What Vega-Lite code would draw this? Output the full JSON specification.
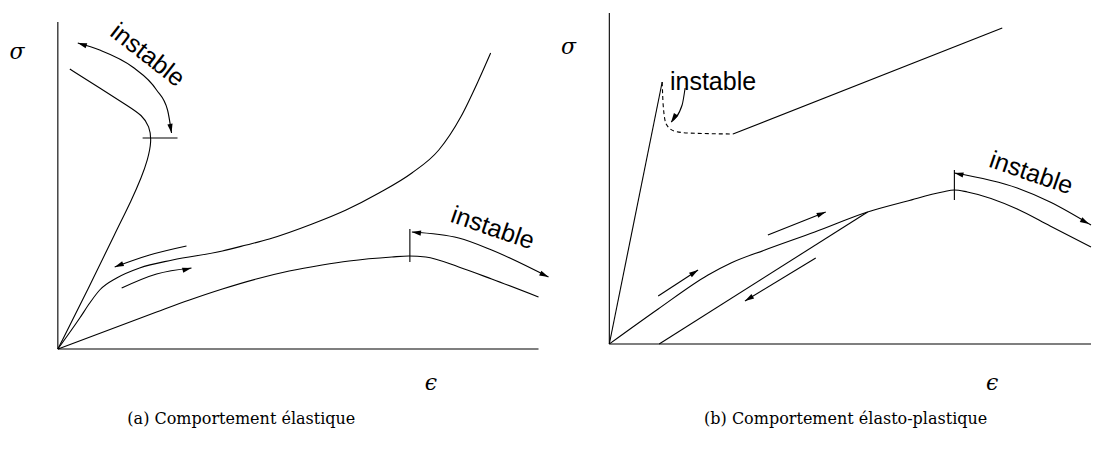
{
  "$schema": "https://vega.github.io/schema/vega-lite/v6.json",
  "width": 1094,
  "height": 456,
  "autosize": {"type": "fit", "contains": "padding"},
  "padding": 0,
  "background": "white",
  "config": {"view": {"stroke": null}},
  "datasets": {
    "lines": [
      {"id": "a_yax", "i": 0, "x": 58, "y": 22}, {"id": "a_yax", "i": 1, "x": 58, "y": 349},
      {"id": "a_xax", "i": 0, "x": 58, "y": 349}, {"id": "a_xax", "i": 1, "x": 540, "y": 349},
      {"id": "b_yax", "i": 0, "x": 611, "y": 13}, {"id": "b_yax", "i": 1, "x": 611, "y": 344},
      {"id": "b_xax", "i": 0, "x": 611, "y": 344}, {"id": "b_xax", "i": 1, "x": 1094, "y": 344},
      {"id": "t1", "i": 0, "x": 143, "y": 138}, {"id": "t1", "i": 1, "x": 178, "y": 138},
      {"id": "t2", "i": 0, "x": 411, "y": 229}, {"id": "t2", "i": 1, "x": 411, "y": 262},
      {"id": "t3", "i": 0, "x": 957, "y": 170}, {"id": "t3", "i": 1, "x": 957, "y": 200},
      {"id": "b_l1", "i": 0, "x": 611, "y": 344}, {"id": "b_l1", "i": 1, "x": 664, "y": 82},
      {"id": "b_l3", "i": 0, "x": 735, "y": 134}, {"id": "b_l3", "i": 1, "x": 1005, "y": 28},
      {"id": "b_l6", "i": 0, "x": 661, "y": 344}, {"id": "b_l6", "i": 1, "x": 870, "y": 212},
      {"id": "b_arr1", "i": 0, "x": 660, "y": 296}, {"id": "b_arr1", "i": 1, "x": 700, "y": 270},
      {"id": "b_arr2", "i": 0, "x": 770, "y": 235}, {"id": "b_arr2", "i": 1, "x": 828, "y": 212},
      {"id": "b_arr3", "i": 0, "x": 818, "y": 258}, {"id": "b_arr3", "i": 1, "x": 747, "y": 301}
    ],
    "scurve": [
      {"id": "a_s", "i": 0, "x": 58, "y": 349}, {"id": "a_s", "i": 1, "x": 88, "y": 290},
      {"id": "a_s", "i": 2, "x": 117, "y": 230}, {"id": "a_s", "i": 3, "x": 132, "y": 200},
      {"id": "a_s", "i": 4, "x": 142, "y": 177}, {"id": "a_s", "i": 5, "x": 148, "y": 160},
      {"id": "a_s", "i": 6, "x": 152, "y": 142}, {"id": "a_s", "i": 7, "x": 150, "y": 126},
      {"id": "a_s", "i": 8, "x": 142, "y": 115}, {"id": "a_s", "i": 9, "x": 130, "y": 107},
      {"id": "a_s", "i": 10, "x": 100, "y": 88}, {"id": "a_s", "i": 11, "x": 70, "y": 69}
    ],
    "curves": [
      {"id": "a_up", "i": 0, "x": 58, "y": 349}, {"id": "a_up", "i": 1, "x": 80, "y": 318},
      {"id": "a_up", "i": 2, "x": 90, "y": 303}, {"id": "a_up", "i": 3, "x": 100, "y": 290},
      {"id": "a_up", "i": 4, "x": 117, "y": 278}, {"id": "a_up", "i": 5, "x": 140, "y": 268},
      {"id": "a_up", "i": 6, "x": 173, "y": 260}, {"id": "a_up", "i": 7, "x": 223, "y": 251},
      {"id": "a_up", "i": 8, "x": 247, "y": 245}, {"id": "a_up", "i": 9, "x": 270, "y": 239},
      {"id": "a_up", "i": 10, "x": 313, "y": 224}, {"id": "a_up", "i": 11, "x": 347, "y": 210},
      {"id": "a_up", "i": 12, "x": 380, "y": 193}, {"id": "a_up", "i": 13, "x": 413, "y": 173},
      {"id": "a_up", "i": 14, "x": 440, "y": 150}, {"id": "a_up", "i": 15, "x": 462, "y": 117},
      {"id": "a_up", "i": 16, "x": 480, "y": 80}, {"id": "a_up", "i": 17, "x": 492, "y": 53},
      {"id": "a_low", "i": 0, "x": 58, "y": 349}, {"id": "a_low", "i": 1, "x": 157, "y": 312},
      {"id": "a_low", "i": 2, "x": 190, "y": 300}, {"id": "a_low", "i": 3, "x": 223, "y": 289},
      {"id": "a_low", "i": 4, "x": 257, "y": 279}, {"id": "a_low", "i": 5, "x": 290, "y": 271},
      {"id": "a_low", "i": 6, "x": 323, "y": 265}, {"id": "a_low", "i": 7, "x": 350, "y": 261},
      {"id": "a_low", "i": 8, "x": 393, "y": 257}, {"id": "a_low", "i": 9, "x": 410, "y": 256},
      {"id": "a_low", "i": 10, "x": 427, "y": 257}, {"id": "a_low", "i": 11, "x": 460, "y": 267},
      {"id": "a_low", "i": 12, "x": 493, "y": 279}, {"id": "a_low", "i": 13, "x": 540, "y": 297},
      {"id": "a_arr1", "i": 0, "x": 78, "y": 43}, {"id": "a_arr1", "i": 1, "x": 100, "y": 50},
      {"id": "a_arr1", "i": 2, "x": 133, "y": 67}, {"id": "a_arr1", "i": 3, "x": 157, "y": 90},
      {"id": "a_arr1", "i": 4, "x": 168, "y": 110}, {"id": "a_arr1", "i": 5, "x": 172, "y": 133},
      {"id": "a_arr2", "i": 0, "x": 115, "y": 267}, {"id": "a_arr2", "i": 1, "x": 150, "y": 255},
      {"id": "a_arr2", "i": 2, "x": 187, "y": 246},
      {"id": "a_arr3", "i": 0, "x": 122, "y": 288}, {"id": "a_arr3", "i": 1, "x": 157, "y": 274},
      {"id": "a_arr3", "i": 2, "x": 192, "y": 268},
      {"id": "a_arr4", "i": 0, "x": 413, "y": 232}, {"id": "a_arr4", "i": 1, "x": 460, "y": 238},
      {"id": "a_arr4", "i": 2, "x": 493, "y": 250}, {"id": "a_arr4", "i": 3, "x": 550, "y": 277},
      {"id": "b_curve", "i": 0, "x": 611, "y": 344}, {"id": "b_curve", "i": 1, "x": 660, "y": 309},
      {"id": "b_curve", "i": 2, "x": 710, "y": 275}, {"id": "b_curve", "i": 3, "x": 733, "y": 263},
      {"id": "b_curve", "i": 4, "x": 767, "y": 250}, {"id": "b_curve", "i": 5, "x": 817, "y": 232},
      {"id": "b_curve", "i": 6, "x": 870, "y": 212}, {"id": "b_curve", "i": 7, "x": 910, "y": 201},
      {"id": "b_curve", "i": 8, "x": 945, "y": 192}, {"id": "b_curve", "i": 9, "x": 957, "y": 190},
      {"id": "b_curve", "i": 10, "x": 970, "y": 192}, {"id": "b_curve", "i": 11, "x": 1020, "y": 209},
      {"id": "b_curve", "i": 12, "x": 1053, "y": 226}, {"id": "b_curve", "i": 13, "x": 1094, "y": 247},
      {"id": "b_arr0", "i": 0, "x": 673, "y": 122}, {"id": "b_arr0", "i": 1, "x": 684, "y": 105},
      {"id": "b_arr0", "i": 2, "x": 687, "y": 88},
      {"id": "b_arr4", "i": 0, "x": 957, "y": 173}, {"id": "b_arr4", "i": 1, "x": 1020, "y": 188},
      {"id": "b_arr4", "i": 2, "x": 1053, "y": 202}, {"id": "b_arr4", "i": 3, "x": 1094, "y": 225}
    ],
    "dashed": [
      {"id": "b_dash", "i": 0, "x": 664, "y": 82}, {"id": "b_dash", "i": 1, "x": 665, "y": 105},
      {"id": "b_dash", "i": 2, "x": 668, "y": 124}, {"id": "b_dash", "i": 3, "x": 676, "y": 131},
      {"id": "b_dash", "i": 4, "x": 690, "y": 133}, {"id": "b_dash", "i": 5, "x": 735, "y": 134}
    ],
    "heads": [
      {"x": 78, "y": 43, "dir": 198}, {"x": 172, "y": 133, "dir": 80},
      {"x": 115, "y": 267, "dir": 158}, {"x": 192, "y": 268, "dir": 346},
      {"x": 413, "y": 232, "dir": 187}, {"x": 550, "y": 277, "dir": 25},
      {"x": 673, "y": 122, "dir": 123}, {"x": 700, "y": 270, "dir": 327},
      {"x": 828, "y": 212, "dir": 338}, {"x": 747, "y": 301, "dir": 149},
      {"x": 957, "y": 173, "dir": 193}, {"x": 1092, "y": 224, "dir": 29}
    ],
    "labels": [
      {"x": 148, "y": 55, "rot": 38, "t": "instable"},
      {"x": 494, "y": 228, "rot": 19, "t": "instable"},
      {"x": 1034, "y": 173, "rot": 19, "t": "instable"},
      {"x": 715, "y": 82, "rot": 0, "t": "instable"}
    ],
    "symbols": [
      {"x": 17, "y": 52, "t": "σ"}, {"x": 570, "y": 47, "t": "σ"},
      {"x": 432, "y": 383, "t": "ϵ"}, {"x": 995, "y": 383, "t": "ϵ"}
    ],
    "captions": [
      {"x": 242, "y": 419, "t": "(a) Comportement élastique"},
      {"x": 848, "y": 419, "t": "(b) Comportement élasto-plastique"}
    ]
  },
  "encoding": {
    "x": {"field": "x", "type": "quantitative", "scale": {"domain": [0, 1094], "nice": false, "zero": false}, "axis": null},
    "y": {"field": "y", "type": "quantitative", "scale": {"domain": [0, 456], "reverse": true, "nice": false, "zero": false}, "axis": null}
  },
  "layer": [
    {
      "data": {"name": "lines"},
      "mark": {"type": "line", "interpolate": "linear", "color": "black", "strokeWidth": 1.1},
      "encoding": {"detail": {"field": "id"}, "order": {"field": "i", "type": "quantitative"}}
    },
    {
      "data": {"name": "curves"},
      "mark": {"type": "line", "interpolate": "monotone", "color": "black", "strokeWidth": 1.1},
      "encoding": {"detail": {"field": "id"}, "order": {"field": "i", "type": "quantitative"}}
    },
    {
      "data": {"name": "scurve"},
      "mark": {"type": "line", "interpolate": "basis", "color": "black", "strokeWidth": 1.1},
      "encoding": {"detail": {"field": "id"}, "order": {"field": "i", "type": "quantitative"}}
    },
    {
      "data": {"name": "dashed"},
      "mark": {"type": "line", "interpolate": "monotone", "color": "black", "strokeWidth": 1.1, "strokeDash": [4, 3]},
      "encoding": {"detail": {"field": "id"}, "order": {"field": "i", "type": "quantitative"}}
    },
    {
      "data": {"name": "heads"},
      "mark": {"type": "point", "shape": "M0,0L-2.6,-0.75L-2.6,0.75Z", "filled": true, "color": "black", "size": 49, "opacity": 1},
      "encoding": {"angle": {"field": "dir", "type": "quantitative", "scale": null}}
    },
    {
      "data": {"name": "labels"},
      "mark": {"type": "text", "font": "Liberation Sans", "fontSize": 25, "align": "center", "baseline": "middle", "color": "black"},
      "encoding": {"text": {"field": "t"}, "angle": {"field": "rot", "type": "quantitative", "scale": null}}
    },
    {
      "data": {"name": "symbols"},
      "mark": {"type": "text", "font": "DejaVu Serif", "fontStyle": "italic", "fontSize": 22, "align": "center", "baseline": "middle", "color": "black"},
      "encoding": {"text": {"field": "t"}}
    },
    {
      "data": {"name": "captions"},
      "mark": {"type": "text", "font": "DejaVu Serif", "fontSize": 16, "align": "center", "baseline": "middle", "color": "black"},
      "encoding": {"text": {"field": "t"}}
    }
  ]
}
